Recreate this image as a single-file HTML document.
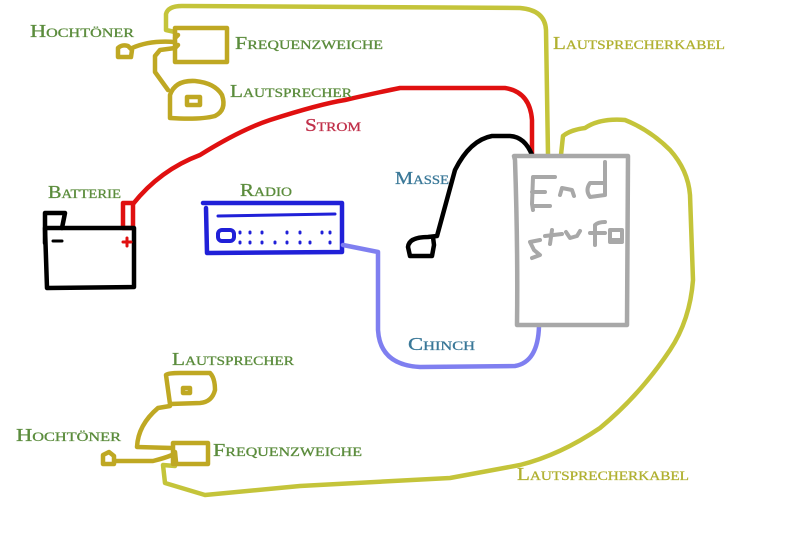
<!DOCTYPE html>
<html><head><meta charset="utf-8"><style>
html,body{margin:0;padding:0;background:#fff;}
svg{display:block}
text{font-family:"Liberation Serif",serif;font-variant:small-caps;font-size:18px;stroke-width:0.3px;}
</style></head><body>
<svg width="800" height="533" viewBox="0 0 800 533" xmlns="http://www.w3.org/2000/svg">
<g fill="none" stroke-linecap="round" stroke-linejoin="round">
<path d="M175,32 L166,30 L166,14 Q168,6 182,6 L520,8 Q545,10 546,30 L548,155" stroke="#c4c43a" stroke-width="4.5"/>
<path d="M561,155 L563,136 Q570,130 585,128 Q600,118 625,120 Q650,130 670,150 Q688,170 690,195 L693,280 Q690,320 670,350 Q640,395 600,428 Q560,455 520,465 L450,478 L300,486 L205,495 L165,483 L163,465 L175,466" stroke="#c4c43a" stroke-width="4.5"/>
<g stroke="#bfa823" stroke-width="4.5">
<rect x="175" y="28" width="52" height="34"/>
<path d="M175,38 L178,35 M175,48 L178,45"/>
<path d="M132,48 Q150,40 175,42"/>
<path d="M118,48 Q122,44 128,46 L132,50 L131,57 L118,57 Z"/>
<path d="M175,48 L160,50 L155,56 L155,72 L168,90"/>
<path d="M170,95 Q175,80 195,81 Q215,83 222,95 Q227,110 215,116 Q200,120 170,118 Z"/>
<rect x="187" y="97" width="13" height="8"/>
<path d="M166,375 Q168,373 180,373 L210,373 Q215,378 215,390 Q212,402 200,403 L170,404 Z"/>
<rect x="183" y="388" width="7" height="5"/>
<path d="M170,406 L158,408 Q138,425 137,447 L172,448"/>
<rect x="173" y="443" width="35" height="21"/>
<path d="M175,452 L176,462"/>
<path d="M103,455 L109,452 L114,456 L114,464 L103,464 Z"/>
<path d="M115,461 L153,461 Q165,458 172,455"/>
</g>
<path d="M133,204 Q160,170 200,155 Q240,130 270,120 Q320,104 345,100 Q380,92 400,88 L505,88 Q530,92 532,120 L532,155" stroke="#e01010" stroke-width="4.5"/>
<rect x="123" y="203" width="10" height="25" stroke="#e01010" stroke-width="4.5"/>
<path d="M45,228 L134,228 L134,287 L47,288 Z" stroke="#000" stroke-width="4.5"/>
<path d="M45,243 L45,213 L65,213 L62,228" stroke="#000" stroke-width="4.5"/>
<path d="M53,241 L62,241" stroke="#000" stroke-width="3"/>
<path d="M123,242 L131,242 M127,238 L127,246" stroke="#e01010" stroke-width="3"/>
<path d="M203,203 L342,203 L342,252 L207,253 L206,208" stroke="#2020d8" stroke-width="4.5"/>
<path d="M218,216 L335,214" stroke="#2020d8" stroke-width="3"/>
<rect x="218" y="230" width="16" height="11" rx="4" stroke="#2020d8" stroke-width="4"/>
<g stroke="#2020d8" stroke-width="3">
<path d="M240,232 v1 M240,242 v1 M250,232 v1 M250,242 v1 M262,232 v1 M262,242 v1 M275,242 v1 M287,232 v1 M287,242 v1 M300,232 v1 M300,242 v1 M310,242 v1 M322,232 v1 M330,232 v1 M330,242 v1"/>
</g>
<path d="M343,245 L378,252 L378,330 Q380,365 420,367 L515,366 Q538,362 539,326" stroke="#7f7ff0" stroke-width="4.5"/>
<path d="M532,155 Q525,137 510,136 L492,136 Q470,140 455,170 L437,236 L428,237 Q409,237 408,247 L410,256 L432,256 L434,245 L433,237" stroke="#000" stroke-width="4.5"/>
<path d="M514,156 L628,156 L627,325 L517,325 Q518,250 515,160 Z" stroke="#a8a8a8" stroke-width="4.5"/>
<g stroke="#a8a8a8" stroke-width="4">
<path d="M555,177 L533,177 L532,204 L533,210 M532,192 L545,192 M534,206 L550,206"/>
<path d="M560,195 L562,188 L572,190 L574,196"/>
<path d="M605,162 L605,195 M605,195 L590,197 Q585,190 590,183 L604,183"/>
<path d="M540,240 L530,242 L534,250 L540,255 L532,258"/>
<path d="M552,230 L550,244 M545,236 L562,234"/>
<path d="M566,232 L570,238 L577,236 L580,231"/>
<path d="M595,245 L595,225 Q598,222 605,222 M590,233 L605,233"/>
<path d="M610,240 L622,240 L622,230 L610,230 L610,242 L622,242"/>
</g>
</g>
<g fill="#5b8c3c" stroke="#5b8c3c">
<text x="30" y="37" textLength="104" lengthAdjust="spacingAndGlyphs">Hochtöner</text>
<text x="235" y="49" textLength="148" lengthAdjust="spacingAndGlyphs">Frequenzweiche</text>
<text x="230" y="97" textLength="122" lengthAdjust="spacingAndGlyphs">Lautsprecher</text>
<text x="48" y="198" textLength="73" lengthAdjust="spacingAndGlyphs">Batterie</text>
<text x="240" y="196" textLength="52" lengthAdjust="spacingAndGlyphs">Radio</text>
<text x="172" y="365" textLength="122" lengthAdjust="spacingAndGlyphs">Lautsprecher</text>
<text x="16" y="441" textLength="105" lengthAdjust="spacingAndGlyphs">Hochtöner</text>
<text x="213" y="456" textLength="149" lengthAdjust="spacingAndGlyphs">Frequenzweiche</text>
</g>
<text x="305" y="131" fill="#c0304a" stroke="#c0304a" textLength="56" lengthAdjust="spacingAndGlyphs">Strom</text>
<text x="395" y="184" fill="#3a7898" stroke="#3a7898" textLength="54" lengthAdjust="spacingAndGlyphs">Masse</text>
<text x="408" y="350" fill="#3a7898" stroke="#3a7898" textLength="67" lengthAdjust="spacingAndGlyphs">Chinch</text>
<text x="553" y="49" fill="#b0b030" stroke="#b0b030" textLength="172" lengthAdjust="spacingAndGlyphs">Lautsprecherkabel</text>
<text x="517" y="480" fill="#b0b030" stroke="#b0b030" textLength="172" lengthAdjust="spacingAndGlyphs">Lautsprecherkabel</text>
</svg>
</body></html>
